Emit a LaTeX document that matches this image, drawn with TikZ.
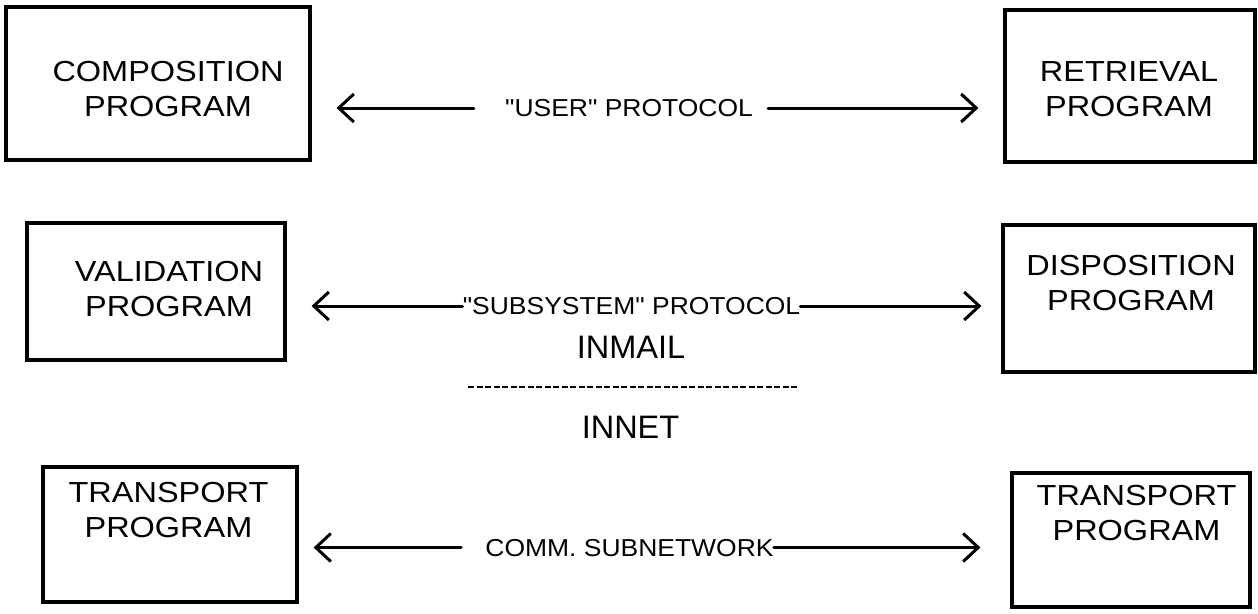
\documentclass[tikz,border=0pt]{standalone}
\usepackage{fontspec}
\setmainfont{Liberation Sans}
\newfontfamily\boxfont[FakeStretch=1.12]{Liberation Sans}
\newfontfamily\lblfont[FakeStretch=1.08]{Liberation Sans}
\usetikzlibrary{arrows.meta}
\begin{document}
\begin{tikzpicture}[x=1pt,y=-1pt,
  progbox/.style={draw, line width=3.2pt, inner sep=0pt},
  progtext/.style={font=\boxfont\fontsize{29}{35}\selectfont, align=center, inner sep=0pt},
  proto/.style={font=\lblfont\fontsize{24.5}{29}\selectfont, inner sep=0pt, text height=17.5pt, text depth=0pt},
  layer/.style={font=\fontsize{32.5}{38}\selectfont, inner sep=0pt, text height=23.3pt, text depth=0pt},
  link/.style={line width=3pt, line cap=round, -{Straight Barb[length=15pt,width=28pt]}},
  sep/.style={line width=2.4pt, dash pattern=on 6pt off 2.5pt}
]
\fill[white] (0,0) rectangle (1258,613);
\useasboundingbox (0,0) rectangle (1258,613);

% boxes
\node[progbox, minimum width=304pt, minimum height=153pt] (comp) at (158,83.5) {};
\node[progtext] (compT) at (168,89.5) {COMPOSITION\\PROGRAM};
\node[progbox, minimum width=250pt, minimum height=152pt] (retr) at (1130,86) {};
\node[progtext] (retrT) at (1129,89.5) {RETRIEVAL\\PROGRAM};
\node[progbox, minimum width=258pt, minimum height=137pt] (valid) at (156,291.5) {};
\node[progtext] (validT) at (169,289.5) {VALIDATION\\PROGRAM};
\node[progbox, minimum width=252pt, minimum height=147pt] (disp) at (1129,298.5) {};
\node[progtext] (dispT) at (1131,283.5) {DISPOSITION\\PROGRAM};
\node[progbox, minimum width=254pt, minimum height=135pt] (transL) at (170,534.5) {};
\node[progtext] (transLT) at (168.5,510.5) {TRANSPORT\\PROGRAM};
\node[progbox, minimum width=238pt, minimum height=134pt] (transR) at (1131,540) {};
\node[progtext] (transRT) at (1136.5,513.5) {TRANSPORT\\PROGRAM};

% protocol labels
\node[proto] (user) at (629,108) {"USER" PROTOCOL};
\node[proto] (subsys) at (631.5,306) {"SUBSYSTEM" PROTOCOL};
\node[proto] (comm) at (629.5,547.5) {COMM. SUBNETWORK};
\node[layer] (inmail) at (631,347) {INMAIL};
\node[layer] (innet) at (630.5,427) {INNET};
\coordinate (sepL) at (468,387);
\coordinate (sepR) at (798,387);
\draw[sep] (sepL) -- (sepR);

% arrows
\draw[link, shorten <=31pt, shorten >=25pt] (user.west) -- (user.west -| comp.east);
\draw[link, shorten <=15pt, shorten >=25pt] (user.east) -- (user.east -| retr.west);
\draw[link, shorten >=25pt] (subsys.west) -- (subsys.west -| valid.east);
\draw[link, shorten >=20pt] (subsys.east) -- (subsys.east -| disp.west);
\draw[link, shorten <=24pt, shorten >=15pt] (comm.west) -- (comm.west -| transL.east);
\draw[link, shorten >=30pt] (comm.east) -- (comm.east -| transR.west);
\end{tikzpicture}
\end{document}
